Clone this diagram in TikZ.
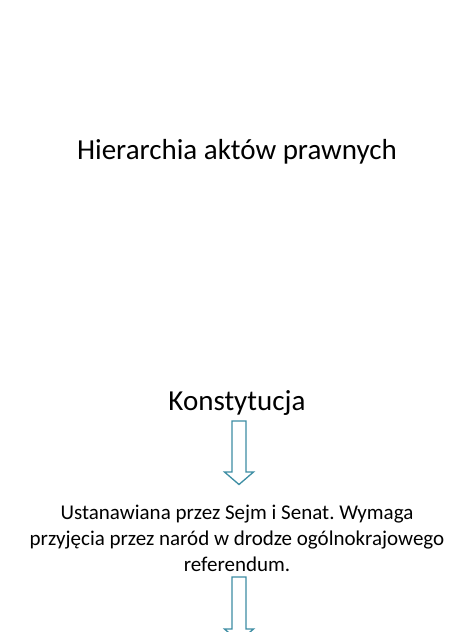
\documentclass[tikz,border=0pt]{standalone}
\usepackage{fontspec}
\setmainfont{Carlito}
\usepackage{tikz}
\frenchspacing
\definecolor{arrowteal}{HTML}{3C8DA3}
\def\blockarrow#1#2#3#4{
  % 1: x of axis
  % 2: y of shaft top
  % 3: y where head starts
  % 4: name
  \begin{scope}[shift={(#1,0)}]
    \draw[line width=1.3pt,color=arrowteal,line join=miter]
      (-7,#2) -- (7,#2) -- (7,#3) -- (14.5,#3) -- (0,#3-12.5) -- (-14.5,#3) -- (-7,#3) -- cycle;
    \coordinate (#4) at (0,#2);
  \end{scope}
}
\begin{document}
\begin{tikzpicture}[x=1pt,y=1pt]
    \useasboundingbox (0,0) rectangle (474,-632);
    \clip (0,0) rectangle (474,-632);
    \fill[white] (0,0) rectangle (474,-632);

    \node[font=\fontsize{29}{35}\selectfont] (title) at (237,-152) {Hierarchia aktów prawnych};
    \node[font=\fontsize{29}{35}\selectfont] (konst) at (237,-403) {Konstytucja};

    \blockarrow{239}{-421}{-472}{arrowA}
    \node[align=center,font=\fontsize{21}{26}\selectfont] (opis) at (237,-538) {Ustanawiana przez Sejm i Senat. Wymaga\\ przyjęcia przez naród w drodze ogólnokrajowego\\ referendum.};
    \blockarrow{239}{-577}{-629}{arrowB}
  \end{tikzpicture}
\end{document}
